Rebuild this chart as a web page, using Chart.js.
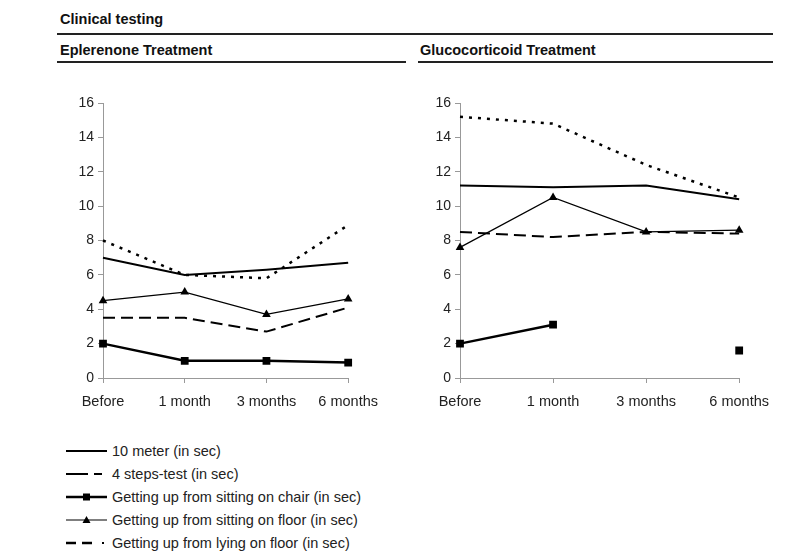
<!DOCTYPE html>
<html>
<head>
<meta charset="utf-8">
<script src="https://cdn.jsdelivr.net/npm/chart.js@4"></script>
<style>
  body { margin: 0; background: #fff; font-family: "Liberation Sans", Arial, sans-serif; color: #111; }
  .abs { position: absolute; }
  .ttl { font-weight: bold; font-size: 14.5px; }
  .rule { position: absolute; height: 2px; background: #222; }
  .leg { position: absolute; left: 66px; font-size: 14.5px; color: #222; }
  .leg div { height: 23px; display: flex; align-items: center; }
  .leg svg { margin-right: 4px; }
</style>
</head>
<body>
<div class="abs ttl" style="left:60px; top:11px;">Clinical testing</div>
<div class="rule" style="left:57px; top:33px; width:716px;"></div>
<div class="abs ttl" style="left:60px; top:42px;">Eplerenone Treatment</div>
<div class="rule" style="left:57px; top:61px; width:349px;"></div>
<div class="abs ttl" style="left:420px; top:42px;">Glucocorticoid Treatment</div>
<div class="rule" style="left:418px; top:61px; width:355px;"></div>

<div class="abs" style="left:50px; top:90px; width:338px; height:320px;"><canvas id="left"></canvas></div>
<div class="abs" style="left:407px; top:90px; width:372px; height:320px;"><canvas id="right"></canvas></div>

<div class="leg" style="top:439px;">
  <div><svg width="42" height="10"><line x1="0" y1="5" x2="41" y2="5" stroke="#000" stroke-width="2"/></svg>10 meter (in sec)</div>
  <div><svg width="42" height="10"><line x1="0" y1="5" x2="22" y2="5" stroke="#000" stroke-width="2"/><line x1="28" y1="5" x2="36" y2="5" stroke="#000" stroke-width="2"/></svg>4 steps-test (in sec)</div>
  <div><svg width="42" height="10"><line x1="0" y1="5" x2="41" y2="5" stroke="#000" stroke-width="2.5"/><rect x="17" y="1.5" width="7" height="7" fill="#000"/></svg>Getting up from sitting on chair (in sec)</div>
  <div><svg width="42" height="10"><line x1="0" y1="5" x2="41" y2="5" stroke="#000" stroke-width="1.2"/><polygon points="20.5,1 24.5,8 16.5,8" fill="#000"/></svg>Getting up from sitting on floor (in sec)</div>
  <div><svg width="42" height="10"><line x1="0" y1="5" x2="10" y2="5" stroke="#000" stroke-width="2.5"/><line x1="16" y1="5" x2="26" y2="5" stroke="#000" stroke-width="2.5"/><rect x="36" y="4" width="2" height="2" fill="#000"/></svg>Getting up from lying on floor (in sec)</div>
</div>

<script>
const months = ['Before', '1 month', '3 months', '6 months'];
const yTicks = [0, 2, 4, 6, 8, 10, 12, 14, 16];

// Eplerenone
const eplMeter = [7.0, 6.0, 6.3, 6.7];
const eplSteps = [3.5, 3.5, 2.7, 4.1];
const eplChair = [2.0, 1.0, 1.0, 0.9];
const eplFloor = [4.5, 5.0, 3.7, 4.6];
const eplLying = [8.0, 6.0, 5.8, 8.9];

// Glucocorticoid
const gluMeter = [11.2, 11.1, 11.2, 10.4];
const gluSteps = [8.5, 8.2, 8.5, 8.4];
const gluChair = [2.0, 3.1, null, 1.6];
const gluFloor = [7.6, 10.5, 8.5, 8.6];
const gluLying = [15.2, 14.8, 12.4, 10.5];

function sets(meter, steps, chair, floor, lying) {
  return [
    { label: '10 meter (in sec)', data: meter, borderColor: '#000', borderWidth: 2, pointRadius: 0 },
    { label: '4 steps-test (in sec)', data: steps, borderColor: '#000', borderWidth: 2, borderDash: [12, 6], pointRadius: 0 },
    { label: 'Getting up from sitting on chair (in sec)', data: chair, borderColor: '#000', borderWidth: 2.5,
      pointStyle: 'rect', pointRadius: 5.5, pointBackgroundColor: '#000', pointBorderWidth: 0 },
    { label: 'Getting up from sitting on floor (in sec)', data: floor, borderColor: '#000', borderWidth: 1.2,
      pointStyle: 'triangle', pointRadius: 5, pointBackgroundColor: '#000', pointBorderWidth: 0 },
    { label: 'Getting up from lying on floor (in sec)', data: lying, borderColor: '#000', borderWidth: 2.5, borderDash: [3, 6], pointRadius: 0 }
  ];
}

function opts() {
  return {
    responsive: true,
    maintainAspectRatio: false,
    animation: false,
    layout: { padding: { top: 13, right: 30, left: 0, bottom: 0 } },
    plugins: { legend: { display: false }, tooltip: { enabled: false } },
    elements: { line: { tension: 0, fill: false } },
    spanGaps: false,
    scales: {
      x: {
        offset: false,
        grid: { drawOnChartArea: false, tickLength: 5, color: '#999' },
        border: { color: '#999' },
        ticks: { color: '#222', font: { family: 'Liberation Sans', size: 14.5 }, padding: 10, maxRotation: 0 },
        afterFit(s) { s.height = 32; }
      },
      y: {
        min: 0, max: 16,
        afterBuildTicks(s) { s.ticks = yTicks.map(v => ({ value: v })); },
        grid: { drawOnChartArea: false, tickLength: 5, color: '#999' },
        border: { color: '#999' },
        ticks: { color: '#222', font: { family: 'Liberation Sans', size: 14 }, padding: 4 },
        afterFit(s) { s.width = 53; }
      }
    }
  };
}

new Chart(document.getElementById('left'), {
  type: 'line',
  data: { labels: months, datasets: sets(eplMeter, eplSteps, eplChair, eplFloor, eplLying) },
  options: opts()
});
new Chart(document.getElementById('right'), {
  type: 'line',
  data: { labels: months, datasets: sets(gluMeter, gluSteps, gluChair, gluFloor, gluLying) },
  options: opts()
});
</script>
</body>
</html>
